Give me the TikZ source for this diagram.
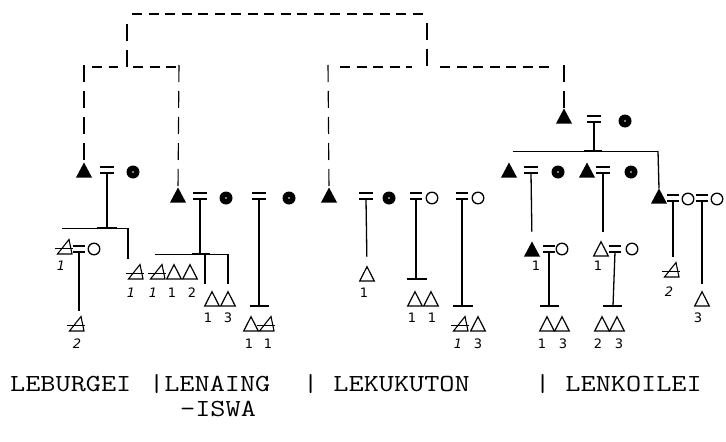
\documentclass[tikz,border=0pt]{standalone}
\usepackage{fontspec}
\usepackage{graphicx}
\newfontfamily\labfont{DejaVu Sans}
\begin{document}
\begin{tikzpicture}[x=1pt,y=-1pt]
\useasboundingbox (0,0) rectangle (726,442);
\tikzset{
  vdash/.style={line width=1.1pt, dash pattern=on 17pt off 9pt},
  hdash/.style={line width=1.1pt, dash pattern=on 10pt off 6.5pt},
  kin/.style={line width=1.3pt},
  sib/.style={line width=1pt},
  tbar/.style={line width=1.9pt},
  lab/.style={font=\labfont\fontsize{13pt}{13pt}\selectfont, inner sep=0pt},
  lineage/.style={font=\ttfamily\fontsize{24.5pt}{24.5pt}\selectfont, inner sep=0pt, anchor=base west},
  ftri/.pic={\fill (-8,7.5) -- (0,-7.5) -- (8,7.5) -- cycle;
             \coordinate (-t) at (0,-7.5);},
  otri/.pic={\draw[line width=1.2pt, line join=miter] (-7.3,7) -- (0,-7.3) -- (7.3,7) -- cycle;
             \coordinate (-t) at (0,-7.3);},
  dtri/.pic={\draw[line width=1.1pt, line join=miter] (-7.5,7) -- (4,-7.5) -- (7,7) -- cycle;
             \draw[line width=1.7pt] (-10,1.5) -- (8,1.5);
             \coordinate (-t) at (4,-7.5);},
  dotc/.pic={\fill (0,0) circle (6.5pt); \fill[white] (0,0) circle (0.8pt);},
  ocirc/.pic={\draw[line width=1.3pt] (0,0) circle (5.8pt);},
  eqs/.pic={\draw[line width=1.2pt] (-7,-3) -- (7,-3) (-7,3) -- (7,3);
            \coordinate (-b) at (0,3);},
  eqn/.pic={\draw[line width=1.2pt] (-6,-3) -- (6,-3) (-6,3) -- (6,3);
            \coordinate (-b) at (0,3);}
}
\newcommand\lbl[4]{\node[lab] (#1) at (#2,#3) {#4};}
\newcommand\wide[1]{\scalebox{1.2}[1]{#1}}

% ---------- top dashed frame ----------
\coordinate (tl) at (132,14); \coordinate (tr) at (423,14);
\coordinate (tlv) at (127,24); \coordinate (trv) at (427,23);
\coordinate (bl) at (127,67); \coordinate (br) at (427,67);
\draw[hdash] (tl) -- (tr);
\draw[vdash] (tlv) -- (bl);
\draw[vdash] (trv) -- (br);
% left branch
\coordinate (l1) at (92,67); \coordinate (l2) at (118,67);
\coordinate (l3) at (133,67); \coordinate (l4) at (176,67);
\draw[hdash] (l1) -- (l2); \draw[hdash] (l3) -- (l4);
\coordinate (lv1) at (84,65); \coordinate (lv2) at (179,65);
% right branch
\coordinate (r1) at (340,67); \coordinate (r2) at (412,67);
\coordinate (r3) at (440,67); \coordinate (r4) at (551,67);
\draw[hdash] (r1) -- (r2); \draw[hdash] (r3) -- (r4);
\coordinate (rv1) at (328,65); \coordinate (rv2) at (564,65);

% ---------- LEBURGEI ----------
\pic (A1) at (84,170) {ftri};
\pic (E1) at (107,170) {eqs};
\pic (W1) at (133,172) {dotc};
\draw[vdash] (lv1) -- (A1-t);
\coordinate (s1a) at (62,228); \coordinate (s1b) at (128,228);
\coordinate (J1) at (107,228);
\draw[kin] (E1-b) -- (J1);
\draw[sib] (s1a) -- (s1b);
\draw[tbar] ([xshift=-10pt]J1) -- ([xshift=10pt]J1);
\pic (D1) at (65,247) {dtri};
\pic (Q1) at (79,249) {eqn};
\pic (C1) at (94,249) {ocirc};
\pic (D2) at (77,324) {dtri};
\pic (D3) at (136,272) {dtri};
\coordinate (s1c) at (128,259);
\draw[kin] (s1b) -- (s1c);
\coordinate (v1) at (79,311);
\draw[kin] (Q1-b) -- (v1);
\lbl{n1}{61}{266}{\itshape 1}
\lbl{n2}{77}{344}{\itshape 2}
\lbl{n3}{131}{293}{\itshape 1}

% ---------- LENAING-ISWA ----------
\pic (A2) at (178,195) {ftri};
\pic (E2) at (200,196) {eqs};
\pic (W2) at (226,198) {dotc};
\pic (E2b) at (259,196) {eqs};
\pic (W2b) at (289,198) {dotc};
\draw[vdash] (lv2) -- (A2-t);
\coordinate (J2) at (200,254);
\coordinate (s2a) at (155,254); \coordinate (s2b) at (228,254);
\coordinate (s2c) at (205,254);
\draw[kin] (E2-b) -- (J2);
\draw[sib] (s2a) -- (s2b);
\draw[tbar] ([xshift=-8pt]J2) -- ([xshift=10pt]J2);
\coordinate (s2d) at (205,284); \coordinate (s2e) at (228,284);
\draw[kin] (s2c) -- (s2d);
\draw[kin] (s2b) -- (s2e);
\pic (D4) at (158,272) {dtri};
\pic (O1) at (174,272) {otri};
\pic (O2) at (190,272) {otri};
\lbl{n4}{153}{293}{\itshape 1}
\lbl{n5}{172}{293}{1}
\lbl{n6}{192}{293}{2}
\pic (O3) at (212,299) {otri};
\pic (O4) at (228,299) {otri};
\lbl{n7}{208}{318}{1}
\lbl{n8}{228}{318}{3}
\coordinate (J2b) at (259,306);
\draw[kin] (E2b-b) -- (J2b);
\draw[tbar] ([xshift=-9.5pt]J2b) -- ([xshift=10pt]J2b);
\pic (O5) at (251,324) {otri};
\pic (D5) at (267,324) {dtri};
\lbl{n9}{249}{344}{1}
\lbl{n10}{268}{344}{1}

% ---------- LEKUKUTON ----------
\pic (A3) at (329,195) {ftri};
\pic (E3a) at (366,196) {eqs};
\pic (W3a) at (389,198) {dotc};
\pic (E3b) at (416,196) {eqn};
\pic (W3b) at (432,198) {ocirc};
\pic (E3c) at (462,196) {eqn};
\pic (W3c) at (478,198) {ocirc};
\draw[vdash] (rv1) -- (A3-t);
\pic (O6) at (367,274) {otri};
\draw[kin, shorten >=10pt] (E3a-b) -- (O6-t);
\lbl{n11}{364}{293}{1}
\coordinate (J3b) at (416,279);
\draw[kin] (E3b-b) -- (J3b);
\draw[tbar] ([xshift=-9.5pt]J3b) -- ([xshift=11pt]J3b);
\pic (O7) at (415,299) {otri};
\pic (O8) at (431,299) {otri};
\lbl{n12}{412}{318}{1}
\lbl{n13}{432}{318}{1}
\coordinate (J3c) at (462,306);
\draw[kin] (E3c-b) -- (J3c);
\draw[tbar] ([xshift=-9pt]J3c) -- ([xshift=11pt]J3c);
\pic (D6) at (461,324) {dtri};
\pic (O9) at (478,324) {otri};
\lbl{n14}{458}{344}{\itshape 1}
\lbl{n15}{478}{344}{3}

% ---------- LENKOILEI ----------
\pic (A4) at (564,116) {ftri};
\pic (E4) at (594,119) {eqs};
\pic (W4) at (625,121) {dotc};
\draw[vdash] (rv2) -- (A4-t);
\coordinate (J4) at (594,151);
\coordinate (s4a) at (513,151); \coordinate (s4b) at (658,151);
\draw[kin] (E4-b) -- (J4);
\draw[sib] (s4a) -- (s4b);
\draw[tbar] ([xshift=-10pt]J4) -- ([xshift=8pt]J4);
\pic (A5) at (509,170) {ftri};
\pic (E5) at (531,170) {eqs};
\pic (W5) at (558,172) {dotc};
\pic (A6) at (587,170) {ftri};
\pic (E6) at (603,170) {eqs};
\pic (W6) at (631,172) {dotc};
\pic (A7) at (659,196) {ftri};
\pic (E7a) at (673,198) {eqn};
\pic (W7a) at (688,199) {ocirc};
\pic (E7b) at (702,198) {eqn};
\pic (W7b) at (717,199) {ocirc};
\draw[kin] (s4b) -- (A7-t);
% grandchildren
\pic (A8) at (532,249) {ftri};
\pic (Q8) at (549,249) {eqn};
\pic (C8) at (562,249) {ocirc};
\draw[kin, shorten >=10pt] (E5-b) -- (A8-t);
\lbl{n16}{536}{266}{1}
\pic (O10) at (601,249) {otri};
\pic (Q10) at (615,249) {eqn};
\pic (C10) at (632,249) {ocirc};
\draw[kin, shorten >=10pt] (E6-b) -- (E6-b |- O10-t);
\lbl{n17}{598}{266}{1}
\coordinate (J8) at (549,306);
\draw[kin] (Q8-b) -- (J8);
\draw[tbar] ([xshift=-9pt]J8) -- ([xshift=10pt]J8);
\pic (O11) at (547,324) {otri};
\pic (O12) at (562,324) {otri};
\lbl{n18}{542}{344}{1}
\lbl{n19}{563}{344}{3}
\coordinate (J10) at (613,306);
\draw[kin] (Q10-b) -- (J10);
\draw[tbar] ([xshift=-10pt]J10) -- ([xshift=9pt]J10);
\pic (O13) at (602,324) {otri};
\pic (O14) at (617,324) {otri};
\lbl{n20}{598}{344}{2}
\lbl{n21}{619}{344}{3}
\pic (D7) at (672,270) {dtri};
\draw[kin, shorten >=6pt] (E7a-b) -- (E7a-b |- D7-t);
\lbl{n22}{669}{292}{\itshape 2}
\pic (O15) at (702,299) {otri};
\draw[kin, shorten >=8pt] (E7b-b) -- (O15-t);
\lbl{n23}{698}{318}{3}

% ---------- lineage names ----------
\node[lineage] (c1) at (10,391) {\wide{LEBURGEI}};
\node[lineage] (c2) at (149,391) {\wide{|LENAING}};
\node[lineage] (c3) at (180,416) {\wide{-ISWA}};
\node[lineage] (c4) at (303,391) {\wide{| LEKUKUTON}};
\node[lineage] (c5) at (535,391) {\wide{| LENKOILEI}};
\end{tikzpicture}
\end{document}
